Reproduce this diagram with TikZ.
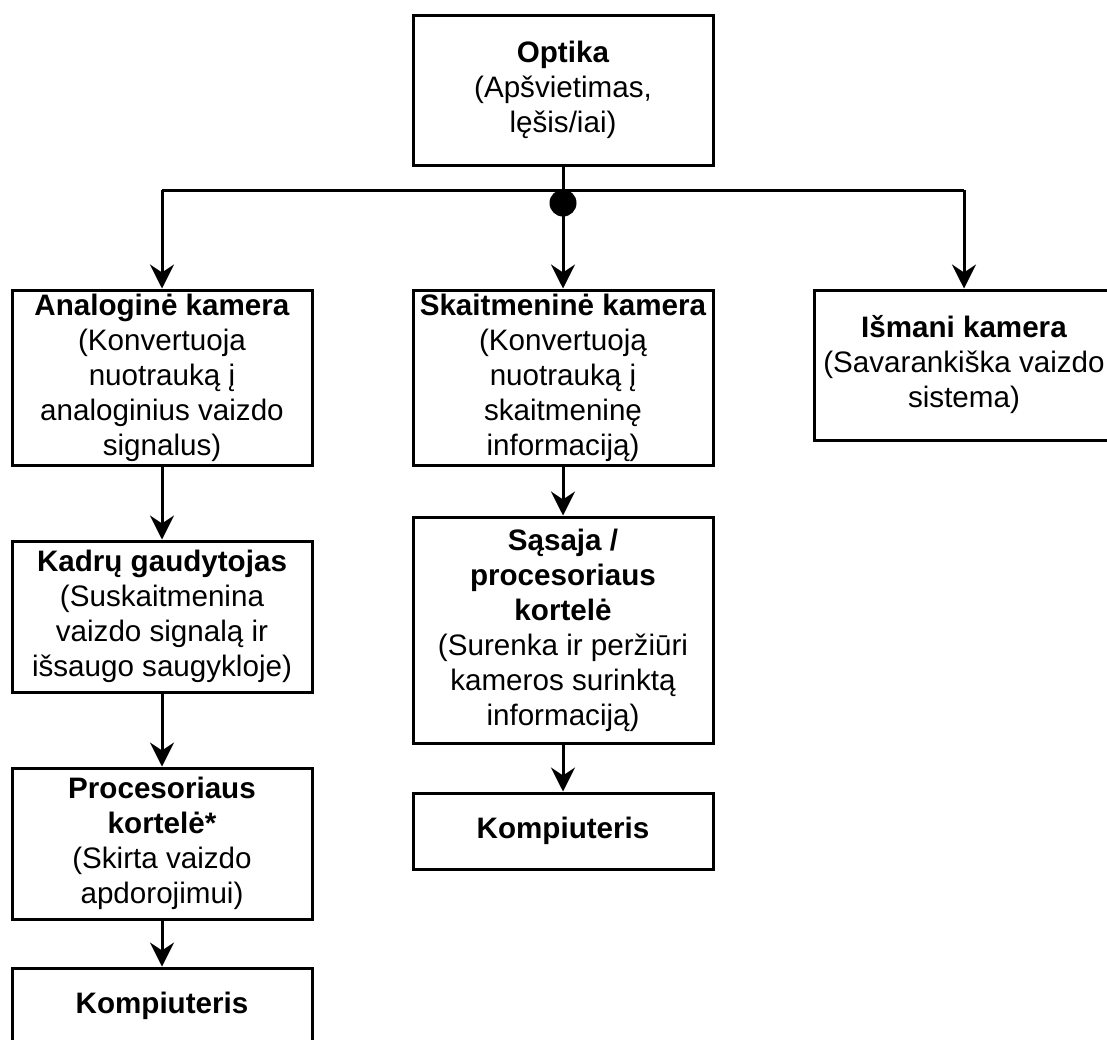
\documentclass[tikz,border=0pt]{standalone}
\usepackage{fontspec}
\setmainfont{Liberation Sans}
\usetikzlibrary{arrows.meta}
\begin{document}
\begin{tikzpicture}[x=1pt,y=-1pt,
  box/.style={draw, line width=3pt, minimum width=300pt, inner sep=0pt, align=center,
    font=\fontsize{29.6}{35}\selectfont},
  conn/.style={line width=3pt},
  arr/.style={conn, -{Stealth[length=24pt,width=24pt,inset=8pt]}}]
\clip (0,0) rectangle (1107,1039);
\fill[white] (0,0) rectangle (1107,1039);
\node[box, minimum height=150pt] (optika) at (563,90) {\textbf{Optika}\\(Apšvietimas,\\lęšis/iai)};
\node[box, minimum height=175pt] (analog) at (162,377.5) {\textbf{Analoginė kamera}\\(Konvertuoja\\nuotrauką į\\analoginius vaizdo\\signalus)};
\node[box, minimum height=175pt] (digital) at (563,377.5) {\textbf{Skaitmeninė kamera}\\(Konvertuoją\\nuotrauką į\\skaitmeninę\\informaciją)};
\node[box, minimum height=150pt] (smart) at (964,365) {\textbf{Išmani kamera}\\(Savarankiška vaizdo\\sistema)};
\node[box, minimum height=151pt] (kadru) at (162,616.5) {\textbf{Kadrų gaudytojas}\\(Suskaitmenina\\vaizdo signalą ir\\išsaugo saugykloje)};
\node[box, minimum height=151pt] (proc) at (162,843.5) {\textbf{Procesoriaus}\\\textbf{kortelė*}\\(Skirta vaizdo\\apdorojimui)};
\node[box, minimum height=76pt] (komp1) at (162,1006) {\textbf{Kompiuteris}};
\node[box, minimum height=226pt] (sasaja) at (563,630) {\textbf{Sąsaja /}\\\textbf{procesoriaus}\\\textbf{kortelė}\\(Surenka ir peržiūri\\kameros surinktą\\informaciją)};
\node[box, minimum height=76pt] (komp2) at (563,831) {\textbf{Kompiuteris}};
\coordinate (junc) at (563,190);
\coordinate (jl) at (analog.north |- junc);
\coordinate (jr) at (smart.north |- junc);
\draw[conn] (optika.south) -- (junc);
\draw[conn] (jl) -- (jr);
\fill (563,203) circle (13.5pt);
\draw[arr] (jl) -- (analog.north);
\draw[arr] (junc) -- (digital.north);
\draw[arr] (jr) -- (smart.north);
\draw[arr] (analog.south) -- (kadru.north);
\draw[arr] (kadru.south) -- (proc.north);
\draw[arr] (proc.south) -- (komp1.north);
\draw[arr] (digital.south) -- (sasaja.north);
\draw[arr] (sasaja.south) -- (komp2.north);
\end{tikzpicture}
\end{document}
